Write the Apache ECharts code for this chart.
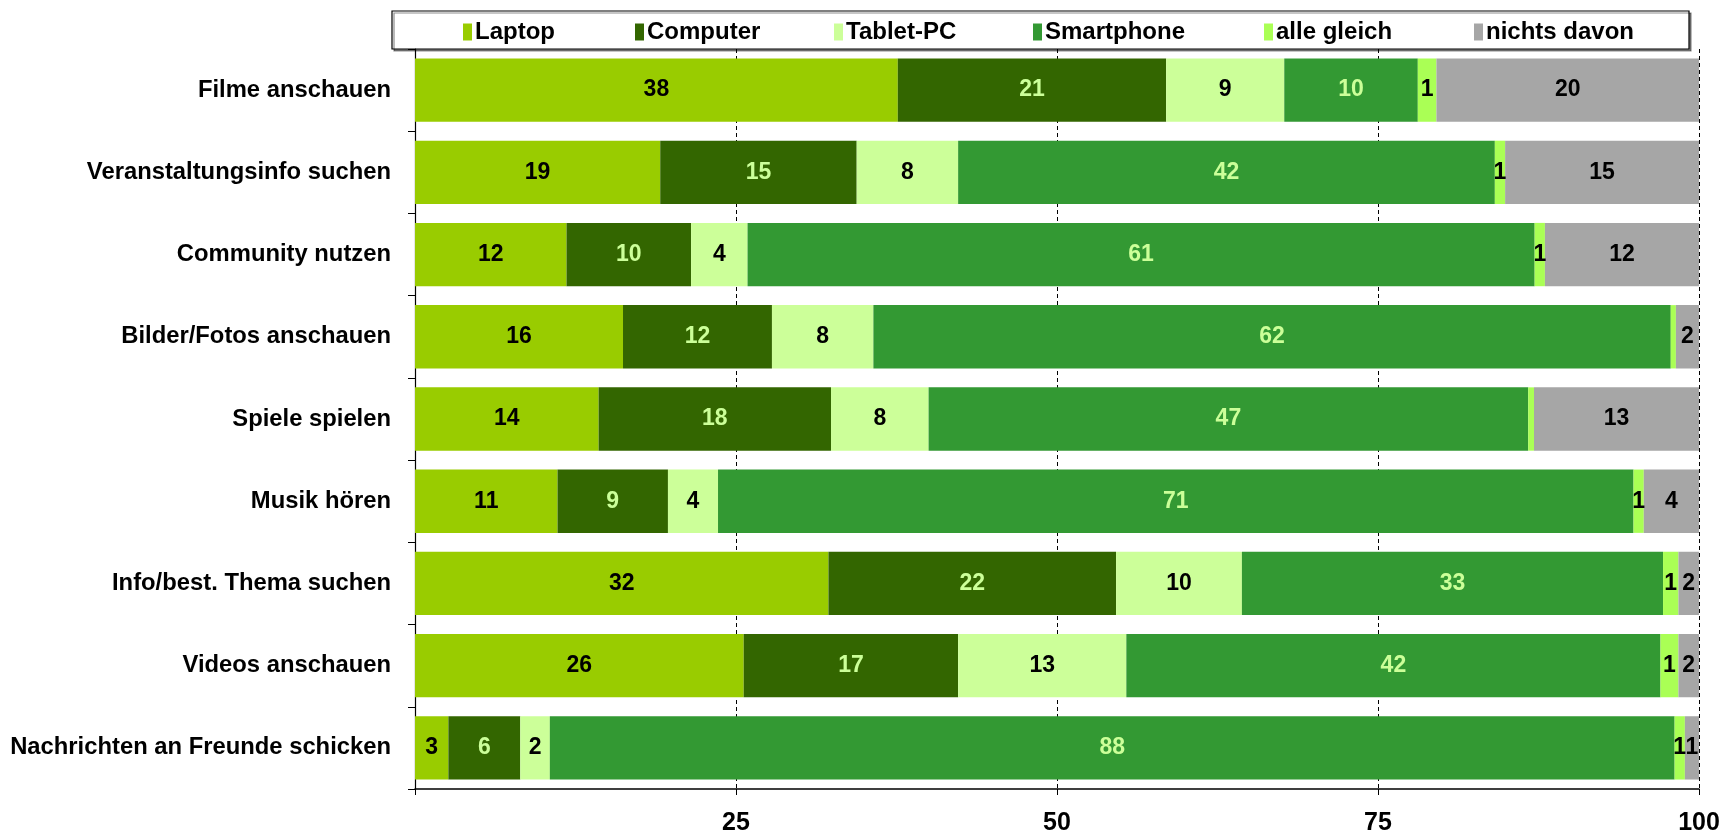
<!DOCTYPE html>
<html>
<head>
<meta charset="utf-8">
<title>Geräte-Nutzung</title>
<script src="https://cdn.jsdelivr.net/npm/echarts@6/dist/echarts.min.js"></script>
<style>
html, body { margin: 0; padding: 0; background: #fff; }
#chart { width: 1722px; height: 832px; }
</style>
</head>
<body>
<div id="chart"></div>
<script>
// Kategorien (von oben nach unten)
var categories = ['Filme anschauen', 'Veranstaltungsinfo suchen', 'Community nutzen',
	'Bilder/Fotos anschauen', 'Spiele spielen', 'Musik hören',
	'Info/best. Thema suchen', 'Videos anschauen', 'Nachrichten an Freunde schicken'];

// Anteile in Prozent, je Gerät
var laptop      = [37.6, 19.1, 11.8, 16.2, 14.3, 11.1, 32.2, 25.6, 2.6];
var computer    = [20.9, 15.3, 9.7, 11.6, 18.1, 8.6, 22.4, 16.7, 5.6];
var tabletPc    = [9.2, 7.9, 4.4, 7.9, 7.6, 3.9, 9.8, 13.1, 2.3];
var smartphone  = [10.4, 41.8, 61.3, 62.1, 46.7, 71.3, 32.8, 41.6, 87.6];
var alleGleich  = [1.45, 0.8, 0.8, 0.4, 0.45, 0.8, 1.2, 1.4, 0.8];
var nichtsDavon = [20.45, 15.1, 12.0, 1.8, 12.85, 4.3, 1.6, 1.6, 1.1];

var xTicks = [25, 50, 75, 100];

var seriesNames = ['Laptop', 'Computer', 'Tablet-PC', 'Smartphone', 'alle gleich', 'nichts davon'];
var seriesData = [laptop, computer, tabletPc, smartphone, alleGleich, nichtsDavon];
var colorList = ['#99cc00', '#336600', '#ccff99', '#339933', '#aaff55', '#a6a6a6'];
var labelColors = ['#000', '#ccff99', '#000', '#ccff99', '#000', '#000'];
// Legenden-Positionen (x) im Rahmen
var legendLeft = [463, 635, 834, 1033, 1264, 1474];

var fontFam = '"Liberation Sans", Arial, sans-serif';

var myChart = echarts.init(document.getElementById('chart'));

var series = [];
var legends = [];
for (var i = 0; i < seriesNames.length; i++) {
	series.push({
		name: seriesNames[i],
		type: 'bar',
		stack: 'total',
		barCategoryGap: '23%',
		data: seriesData[i],
		itemStyle: { color: colorList[i] },
		label: {
			show: true,
			position: 'inside',
			color: labelColors[i],
			fontFamily: fontFam,
			fontWeight: 'bold',
			fontSize: 23,
			formatter: function(p) {
				var v = Math.round(p.value);
				return v >= 1 ? String(v) : '';
			}
		}
	});
	legends.push({
		data: [seriesNames[i]],
		left: legendLeft[i],
		top: 20,
		padding: 0,
		itemWidth: 9,
		itemHeight: 17,
		itemGap: 4,
		icon: 'rect',
		textStyle: { fontFamily: fontFam, fontWeight: 'bold', fontSize: 24, color: '#000', padding: [2, 0, 0, -2] }
	});
}

var option = {
	animation: false,
	backgroundColor: '#fff',
	color: colorList,
	legend: legends,
	graphic: [{
		type: 'rect',
		z: 0,
		shape: { x: 392, y: 11, width: 1297, height: 38 },
		style: { fill: '#fff', stroke: '#000', lineWidth: 1.2,
			shadowColor: 'rgba(0,0,0,0.45)', shadowOffsetX: 2, shadowOffsetY: 2 }
	}],
	grid: { left: 415, right: 23, top: 49, bottom: 43, outerBoundsMode: 'none' },
	xAxis: {
		type: 'value',
		min: 0,
		max: 100,
		interval: 25,
		axisLine: { show: true, lineStyle: { color: '#000', width: 1.5 } },
		axisTick: { show: true, length: 6, lineStyle: { color: '#000' } },
		splitLine: { show: true, lineStyle: { color: '#000', type: [4, 3], width: 1 } },
		axisLabel: {
			margin: 22,
			color: '#000',
			fontFamily: fontFam,
			fontWeight: 'bold',
			fontSize: 25,
			formatter: function(v) { return xTicks.indexOf(v) >= 0 ? String(v) : ''; }
		}
	},
	yAxis: {
		type: 'category',
		inverse: true,
		data: categories,
		axisLine: { show: true, lineStyle: { color: '#000', width: 1.2 } },
		axisTick: { show: true, length: 7, lineStyle: { color: '#000' } },
		axisLabel: {
			margin: 24,
			color: '#000',
			fontFamily: fontFam,
			fontWeight: 'bold',
			fontSize: 23.8
		}
	},
	series: series
};

myChart.setOption(option);
</script>
</body>
</html>
